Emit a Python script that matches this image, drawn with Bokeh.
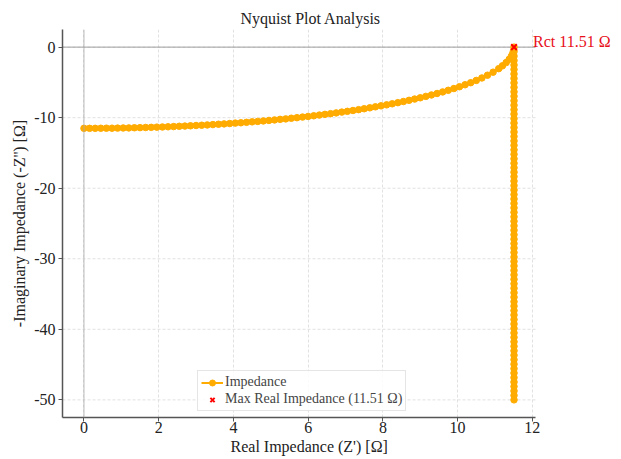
from bokeh.plotting import figure
from bokeh.models import Range1d, Label, Legend, LegendItem, Span, FixedTicker, Title
from bokeh.embed import file_html
from bokeh.resources import INLINE

# ---- data ----
arc_real = [0.0, 0.15, 0.3, 0.45, 0.6, 0.75, 0.9, 1.05, 1.2, 1.35, 1.5, 1.65, 1.8, 1.95,
            2.1, 2.25, 2.4, 2.55, 2.7, 2.85, 3.0, 3.15, 3.3, 3.45, 3.6, 3.75, 3.9, 4.05,
            4.2, 4.35, 4.5, 4.65, 4.8, 4.95, 5.1, 5.25, 5.4, 5.55, 5.7, 5.85, 6.0, 6.15,
            6.3, 6.45, 6.6, 6.75, 6.9, 7.05, 7.2, 7.35, 7.5, 7.65, 7.8, 7.95, 8.1, 8.25,
            8.4, 8.55, 8.7, 8.85, 9.0, 9.15, 9.3, 9.45, 9.6, 9.75, 9.9, 10.05, 10.2, 10.35,
            10.5, 10.65, 10.8, 10.95, 11.1, 11.2, 11.3, 11.38, 11.44, 11.48, 11.5]
arc_imag = [-11.51, -11.51, -11.51, -11.50, -11.49, -11.49, -11.48, -11.46, -11.45, -11.43,
            -11.41, -11.39, -11.37, -11.34, -11.32, -11.29, -11.26, -11.22, -11.19, -11.15,
            -11.11, -11.07, -11.03, -10.98, -10.93, -10.88, -10.83, -10.77, -10.72, -10.66,
            -10.59, -10.53, -10.46, -10.39, -10.32, -10.24, -10.17, -10.08, -10.00, -9.91,
            -9.82, -9.73, -9.63, -9.53, -9.43, -9.32, -9.21, -9.10, -8.98, -8.86, -8.73,
            -8.60, -8.46, -8.32, -8.18, -8.03, -7.87, -7.71, -7.54, -7.36, -7.18, -6.98,
            -6.78, -6.57, -6.35, -6.12, -5.87, -5.61, -5.33, -5.04, -4.72, -4.37, -3.98,
            -3.55, -3.05, -2.65, -2.19, -1.73, -1.27, -0.83, -0.48]
tail_imag = [0.0, -0.63, -1.27, -1.90, -2.53, -3.16, -3.80, -4.43, -5.06, -5.70, -6.33,
             -6.96, -7.59, -8.23, -8.86, -9.49, -10.13, -10.76, -11.39, -12.03, -12.66,
             -13.29, -13.92, -14.56, -15.19, -15.82, -16.46, -17.09, -17.72, -18.35, -18.99,
             -19.62, -20.25, -20.89, -21.52, -22.15, -22.78, -23.42, -24.05, -24.68, -25.32,
             -25.95, -26.58, -27.22, -27.85, -28.48, -29.11, -29.75, -30.38, -31.01, -31.65,
             -32.28, -32.91, -33.54, -34.18, -34.81, -35.44, -36.08, -36.71, -37.34, -37.97,
             -38.61, -39.24, -39.87, -40.51, -41.14, -41.77, -42.41, -43.04, -43.67, -44.30,
             -44.94, -45.57, -46.20, -46.84, -47.47, -48.10, -48.73, -49.37, -50.00]
max_real = 11.51
tail_real = [max_real] * len(tail_imag)
real_vals = arc_real + tail_real
imag_vals = arc_imag + tail_imag

x_ticks = [0, 2, 4, 6, 8, 10, 12]
y_ticks = [0, -10, -20, -30, -40, -50]
y_tick_labels = ["0", "-10", "-20", "-30", "-40", "-50"]

FONT = "Liberation Serif"
ORANGE = "#ffab00"
AX = "#555555"
GRID = "#dedede"

# axes extent (matplotlib-like 5% margins); the frame is widened to the right
# so that the annotation can sit outside the axes area without being clipped
X_LO, X_HI = -0.575, 12.085
Y_LO, Y_HI = -52.5, 2.5
W, H = 621, 459
LEFT, RIGHT_PAD, TOP, BOTTOM = 62, 5, 29, 42
AX_RIGHT_PX = 535
px_per_unit = (AX_RIGHT_PX - LEFT) / (X_HI - X_LO)
frame_w = W - LEFT - RIGHT_PAD
X_FRAME_HI = X_LO + frame_w / px_per_unit

p = figure(width=W, height=H, output_backend="svg", toolbar_location=None,
           x_range=Range1d(X_LO, X_FRAME_HI), y_range=Range1d(Y_LO, Y_HI),
           min_border_left=LEFT, min_border_right=RIGHT_PAD,
           min_border_top=TOP, min_border_bottom=BOTTOM)

p.title.text = "Nyquist Plot Analysis"
p.title.align = "left"
p.title.offset = 178
p.title.standoff = 5
p.title.text_font = FONT
p.title.text_font_size = "16px"
p.title.text_font_style = "normal"
p.title.text_color = "#222222"
p.outline_line_color = None
p.background_fill_color = "white"
p.border_fill_color = "white"

# horizontal grid lines limited to the axes area
p.ygrid.visible = False
p.segment(x0=[X_LO] * len(y_ticks), y0=y_ticks, x1=[X_HI] * len(y_ticks), y1=y_ticks,
          line_color=GRID, line_dash="3 2", line_alpha=0.9, line_width=1)

# reference lines at zero
p.line([X_LO, X_HI], [0, 0], line_color="#888888", line_width=1, line_alpha=0.8)
p.add_layout(Span(location=0, dimension="height", line_color="#aaaaaa", line_width=1, line_alpha=0.8))

ln = p.line(real_vals, imag_vals, line_color=ORANGE, line_width=2)
dots = p.scatter(real_vals, imag_vals, marker="circle", size=6.5, fill_color=ORANGE, line_color=ORANGE)
mx = p.scatter([max_real], [0], marker="x", size=8, line_color="red", line_width=2)

p.add_layout(Label(x=max_real, y=0, text="Rct 11.51 Ω", x_offset=19, y_offset=6,
                   text_baseline="middle", text_font=FONT, text_font_size="16px", text_color="#e8101a"))

for ax in (p.xaxis[0], p.yaxis[0]):
    ax.axis_line_color = AX
    ax.axis_line_width = 1.5
    ax.major_tick_line_color = AX
    ax.major_tick_out = 4
    ax.major_tick_in = 0
    ax.minor_tick_line_color = None
    ax.major_label_text_font = FONT
    ax.major_label_text_font_size = "16px"
    ax.major_label_text_color = "#222222"
    ax.axis_label_text_font = FONT
    ax.axis_label_text_font_size = "16px"
    ax.axis_label_text_font_style = "normal"
    ax.axis_label_text_color = "#222222"
    ax.major_label_standoff = 3
    ax.axis_label_standoff = 3

p.xaxis.major_label_standoff = 0
p.xaxis.bounds = (X_LO, X_HI)
p.xaxis.ticker = FixedTicker(ticks=x_ticks)
p.yaxis.ticker = FixedTicker(ticks=y_ticks)
p.yaxis.major_label_overrides = {t: s for t, s in zip(y_ticks, y_tick_labels)}
p.yaxis.axis_label = "-Imaginary Impedance (-Z'') [Ω]"

# x-axis label as a bottom title so it can be centred under the axes area
xlab = Title(text="Real Impedance (Z') [Ω]", align="left", offset=168, standoff=1,
             text_font=FONT, text_font_size="16px", text_font_style="normal", text_color="#222222")
p.add_layout(xlab, "below")

p.xgrid.grid_line_color = GRID
p.xgrid.grid_line_dash = "3 2"
p.xgrid.grid_line_alpha = 0.9

legend = Legend(items=[LegendItem(label="Impedance", renderers=[ln, dots]),
                       LegendItem(label="Max Real Impedance (11.51 Ω)", renderers=[mx])],
                location=(135, 6))
legend.label_text_font = FONT
legend.label_text_font_size = "14px"
legend.label_height = 15
legend.glyph_height = 15
legend.glyph_width = 22
legend.spacing = 1
legend.padding = 3
legend.margin = 0
legend.label_standoff = 2
legend.border_line_color = "#cccccc"
legend.background_fill_alpha = 0.85
p.add_layout(legend)

open("out.html", "w").write(file_html(p, INLINE))
